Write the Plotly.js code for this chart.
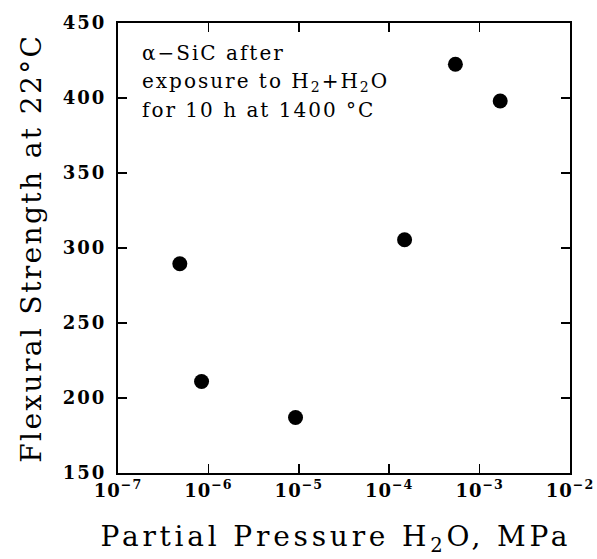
<!DOCTYPE html>
<html>
<head>
<meta charset="utf-8">
<script src="https://cdn.plot.ly/plotly-3.0.1.min.js"></script>
<style>
html,body{margin:0;padding:0;background:#fff;}
#chart .xtick text{letter-spacing:1px;}
#chart .ytick text{letter-spacing:2px;}
#chart .annotation-text{letter-spacing:2px;}
#chart .ann-xtitle .annotation-text{letter-spacing:3.8px;}
#chart .ann-ytitle .annotation-text{letter-spacing:2.4px;}
</style>
</head>
<body>
<div id="chart" style="width:597px;height:559px;"></div>
<script>
// Partial pressure of H2O (MPa)
const pressureMPa = [4.83e-7, 8.4e-7, 9.2e-6, 1.48e-4, 5.4e-4, 1.69e-3];
// Flexural strength at 22 °C (MPa)
const strength = [289.5, 211, 187, 305.5, 422.5, 398];
const yTicks = [150, 200, 250, 300, 350, 400, 450];
const xTickVals = [1e-7, 1e-6, 1e-5, 1e-4, 1e-3, 1e-2];
const xTickText = ['10<sup>−7</sup>', '10<sup>−6</sup>', '10<sup>−5</sup>', '10<sup>−4</sup>', '10<sup>−3</sup>', '10<sup>−2</sup>'];
const noteLines = ['α−SiC after', 'exposure to H<sub>2</sub>+H<sub>2</sub>O', 'for 10 h at 1400 °C'];
const xTitle = 'Partial Pressure H<sub>2</sub>O, MPa';
const yTitle = 'Flexural Strength at 22°C';

const serif = 'DejaVu Serif, Liberation Serif, serif';

const trace = {
  x: pressureMPa,
  y: strength,
  type: 'scatter',
  mode: 'markers',
  marker: {color: '#000', size: 15},
  showlegend: false,
  hoverinfo: 'x+y'
};

const noteY = [0.933, 0.869, 0.807];
const annotations = noteLines.map((t, i) => ({
  xref: 'paper', yref: 'paper',
  x: 0.049, y: noteY[i],
  xanchor: 'left', yanchor: 'middle',
  align: 'left', showarrow: false,
  text: t,
  font: {family: serif, size: 20, color: '#000'}
}));
annotations.push({
  xref: 'paper', yref: 'paper',
  x: 0.482, y: -0.146,
  xanchor: 'center', yanchor: 'middle',
  showarrow: false, text: xTitle,
  font: {family: serif, size: 28, color: '#000'}
});
annotations.push({
  xref: 'paper', yref: 'paper',
  x: -0.193, y: 0.5,
  xanchor: 'center', yanchor: 'middle',
  textangle: -90,
  showarrow: false, text: yTitle,
  font: {family: serif, size: 28, color: '#000'}
});

const layout = {
  width: 597,
  height: 559,
  margin: {l: 118, r: 27, t: 23, b: 86},
  paper_bgcolor: '#fff',
  plot_bgcolor: '#fff',
  font: {family: serif, color: '#000'},
  xaxis: {
    type: 'log',
    range: [-7, -2],
    tickvals: xTickVals,
    ticktext: xTickText,
    ticks: 'inside',
    ticklen: 9,
    tickwidth: 1.5,
    tickcolor: '#000',
    showline: true,
    linecolor: '#000',
    linewidth: 2,
    mirror: 'ticks',
    showgrid: false,
    zeroline: false,
    tickfont: {family: serif, size: 18, color: '#000', weight: 'bold'}
  },
  yaxis: {
    range: [150, 450],
    tickvals: yTicks,
    ticks: 'inside',
    ticklen: 9,
    tickwidth: 1.5,
    tickcolor: '#000',
    showline: true,
    linecolor: '#000',
    linewidth: 2,
    mirror: 'ticks',
    showgrid: false,
    zeroline: false,
    ticklabelstandoff: 6,
    tickfont: {family: serif, size: 18, color: '#000', weight: 'bold'}
  },
  annotations: annotations
};

Plotly.newPlot('chart', [trace], layout, {displayModeBar: false, staticPlot: true}).then(() => {
  const anns = document.querySelectorAll('#chart .annotation');
  const n = anns.length;
  if (anns[n - 2]) anns[n - 2].classList.add('ann-xtitle');
  if (anns[n - 1]) anns[n - 1].classList.add('ann-ytitle');
});
</script>
</body>
</html>
